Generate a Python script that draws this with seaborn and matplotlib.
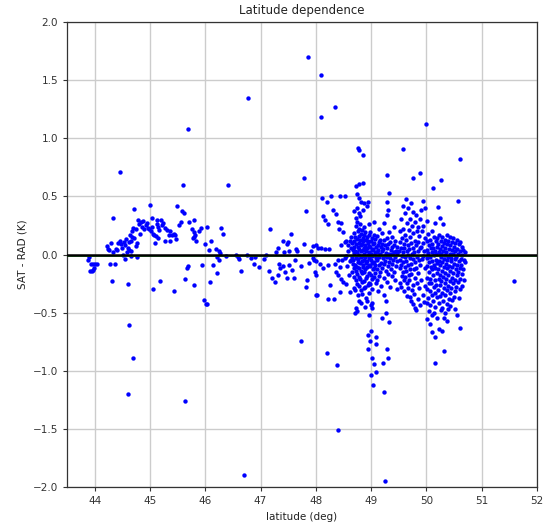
import matplotlib
matplotlib.use("Agg")
import matplotlib.pyplot as plt
import seaborn as sns
import pandas as pd

# Satellite minus radiosonde temperature difference (K) against station latitude.

# Sparse soundings, as (latitude, difference) pairs
south_pts = [
    (43.90, -0.02), (43.88, -0.05), (43.93, -0.08), (43.97, -0.08), (44.01, -0.08),
    (44.04, -0.08), (43.92, -0.14), (43.95, -0.14), (43.97, -0.13), (43.99, -0.12),
    (44.22, 0.07), (44.24, 0.05), (44.26, 0.04), (44.28, -0.08), (44.36, -0.08),
    (44.32, -0.23), (44.33, 0.02), (44.30, 0.10), (44.38, 0.05), (44.42, 0.10),
    (44.45, 0.12), (44.41, 0.04), (44.46, 0.71), (44.34, 0.31),
    (44.50, 0.06), (44.48, 0.09), (44.53, 0.11), (44.55, 0.08), (44.56, 0.13),
    (44.58, 0.02), (44.60, 0.06), (44.62, 0.11), (44.63, 0.04), (44.64, 0.17),
    (44.65, 0.12), (44.66, 0.03), (44.68, 0.20), (44.68, 0.15), (44.70, 0.23),
    (44.72, 0.39), (44.72, 0.14), (44.74, 0.07), (44.75, 0.22), (44.76, 0.10),
    (44.78, 0.30), (44.80, 0.26), (44.82, 0.18), (44.84, 0.28), (44.86, 0.24),
    (44.88, 0.29), (44.90, 0.22), (44.92, 0.25), (44.95, 0.27), (44.97, 0.23),
    (45.00, 0.43), (44.55, -0.04), (44.77, -0.02), (44.60, -0.25), (44.65, -0.01),
    (44.52, 0.00), (44.62, -0.61), (44.69, -0.89), (44.61, -1.20),
]

central_pts = [
    (45.69, 1.08), (45.59, 0.60), (46.42, 0.60), (45.49, 0.42), (45.58, 0.37),
    (45.61, 0.36), (45.03, 0.31), (45.13, 0.30), (45.20, 0.30), (45.24, 0.27),
    (45.14, 0.24), (45.21, 0.25), (45.28, 0.23), (45.30, 0.21), (45.36, 0.20),
    (45.44, 0.18), (45.35, 0.17), (45.40, 0.17), (45.45, 0.17), (45.48, 0.13),
    (45.37, 0.12), (45.28, 0.12), (45.10, 0.10), (45.15, 0.14), (45.05, 0.18),
    (45.02, 0.20), (44.98, 0.22), (45.03, 0.24), (45.08, 0.17), (45.11, 0.16),
    (45.12, 0.26), (45.17, 0.21), (45.52, 0.25), (45.56, 0.28), (45.70, 0.28),
    (45.80, 0.30), (45.76, 0.22), (45.79, 0.19), (45.82, 0.17), (45.77, 0.14),
    (45.84, 0.12), (45.89, 0.20), (45.92, 0.23), (45.80, 0.15), (46.04, 0.24),
    (46.10, 0.12), (45.99, 0.09), (46.33, 0.18), (46.28, 0.23), (46.06, 0.04),
    (46.20, 0.05), (46.24, 0.03), (46.27, 0.01), (46.38, -0.01), (46.22, -0.02),
    (46.14, -0.09), (46.21, -0.16), (46.25, -0.05),
    (45.64, -0.21), (45.67, -0.12), (45.69, -0.10), (45.19, -0.23), (45.06, -0.30),
    (45.44, -0.31), (45.80, -0.26), (46.09, -0.24), (45.94, -0.09), (45.97, -0.39),
    (46.02, -0.43), (46.04, -0.43), (45.64, -1.26), (46.71, -1.90), (46.77, 1.35),
]

north_pts = [
    (47.78, 0.66), (47.82, 0.37), (47.17, 0.22), (47.56, 0.18), (47.50, 0.11),
    (47.40, 0.12), (47.48, 0.09), (47.65, 0.05), (47.78, 0.09), (47.66, 0.03),
    (47.95, 0.07), (47.92, 0.03), (47.31, 0.06), (47.28, 0.02), (47.52, 0.03),
    (47.42, 0.02), (46.55, 0.00), (46.60, -0.02), (46.75, 0.00), (46.90, -0.02),
    (47.10, 0.00), (46.61, -0.04), (46.65, -0.14), (46.88, -0.08), (46.97, -0.11),
    (46.82, -0.03), (47.07, -0.04), (47.15, -0.14), (47.21, -0.20), (47.27, -0.24),
    (47.32, -0.18), (47.36, -0.12), (47.34, -0.08), (47.48, -0.20), (47.60, -0.20),
    (47.62, -0.05), (47.45, -0.15), (47.41, -0.10), (47.52, -0.09), (47.57, -0.13),
    (47.73, -0.10), (47.84, -0.22), (47.82, -0.28), (47.87, -0.07), (47.98, -0.15),
    (47.96, -0.05), (48.00, -0.35), (47.74, -0.74),
    (47.86, 1.70), (48.10, 1.54), (48.34, 1.27), (48.10, 1.18), (50.00, 1.12),
    (48.76, 0.92), (48.78, 0.90), (48.85, 0.86), (49.29, 0.68), (50.27, 0.64),
    (48.12, 0.49), (48.28, 0.50), (48.20, 0.45), (48.44, 0.50), (48.53, 0.50),
    (48.31, 0.38), (48.36, 0.35), (48.16, 0.30), (48.13, 0.33), (48.22, 0.26),
    (48.40, 0.28), (48.42, 0.22), (48.45, 0.27), (48.50, 0.19),
    (48.00, 0.08), (48.04, 0.06), (48.10, 0.06), (48.16, 0.05), (48.24, 0.05),
    (47.95, -0.03), (48.01, -0.06), (48.07, -0.08), (48.13, -0.12), (48.22, -0.09),
    (48.34, -0.08), (48.40, -0.05), (48.43, -0.11), (48.37, -0.15), (48.40, -0.18),
    (48.25, -0.26), (48.49, -0.24), (48.46, -0.21), (48.01, -0.18), (48.02, -0.35),
    (48.22, -0.38), (48.32, -0.38), (48.43, -0.32), (48.46, 0.08), (48.52, 0.11),
    (48.58, 0.08), (48.61, 0.12), (48.64, 0.15), (48.55, -0.01), (48.61, -0.06),
    (48.48, -0.05), (48.55, 0.12), (48.58, 0.03), (48.52, -0.03), (48.57, -0.10),
    (48.60, -0.18), (48.55, -0.25), (48.62, -0.32), (48.64, -0.05), (48.63, 0.06),
    (48.21, -0.85), (48.38, -0.95), (48.40, -1.51),
    (48.94, -0.69), (49.09, -0.71), (48.98, -0.74), (49.09, -0.77), (48.94, -0.81),
    (49.29, -0.81), (49.01, -0.89), (49.05, -0.94), (49.21, -0.93), (49.31, -0.89),
    (49.08, -1.01), (49.00, -1.04), (49.04, -1.12), (49.23, -1.18), (49.25, -1.95),
    (49.19, -0.55), (49.27, -0.50), (48.97, -0.52), (49.27, -0.40), (49.13, -0.31),
    (49.02, -0.46), (48.71, -0.50), (51.59, -0.23),
]

# Dense groups of soundings
band_489 = [
    (48.655, 0.100), (48.668, 0.035), (48.662, -0.025), (48.671, -0.085), (48.652, -0.148),
    (48.694, 0.183), (48.683, 0.118), (48.699, 0.064), (48.688, 0.012), (48.681, -0.046),
    (48.697, -0.113), (48.686, -0.196), (48.692, -0.284), (48.695, 0.372),
    (48.724, 0.243), (48.713, 0.152), (48.728, 0.087), (48.716, 0.027), (48.731, -0.033),
    (48.711, -0.094), (48.726, -0.142), (48.719, -0.218), (48.714, -0.303), (48.723, -0.457),
    (48.729, 0.318), (48.718, 0.592),
    (48.748, 0.276), (48.757, 0.203), (48.743, 0.134), (48.755, 0.068), (48.741, 0.022),
    (48.759, -0.037), (48.746, -0.104), (48.752, -0.171), (48.744, -0.252), (48.758, -0.348),
    (48.749, -0.483), (48.753, 0.401), (48.745, 0.523),
    (48.776, 0.218), (48.788, 0.163), (48.772, 0.097), (48.784, 0.047), (48.779, -0.004),
    (48.771, -0.063), (48.787, -0.118), (48.775, -0.193), (48.782, -0.268), (48.774, -0.396),
    (48.786, 0.488), (48.777, 0.357), (48.789, 0.606),
    (48.806, 0.262), (48.815, 0.176), (48.802, 0.124), (48.818, 0.079), (48.808, 0.028),
    (48.812, -0.021), (48.801, -0.077), (48.817, -0.141), (48.805, -0.208), (48.813, -0.302),
    (48.809, -0.418), (48.803, 0.334), (48.816, 0.452),
    (48.836, 0.208), (48.845, 0.143), (48.831, 0.088), (48.848, 0.038), (48.839, -0.012),
    (48.833, -0.054), (48.846, -0.107), (48.838, -0.163), (48.842, -0.238), (48.834, -0.342),
    (48.847, 0.386), (48.849, 0.612),
    (48.868, 0.238), (48.876, 0.172), (48.862, 0.114), (48.874, 0.056), (48.865, 0.008),
    (48.879, -0.043), (48.861, -0.088), (48.873, -0.153), (48.866, -0.224), (48.877, -0.287),
    (48.869, 0.447),
    (48.898, 0.193), (48.906, 0.128), (48.892, 0.083), (48.904, 0.026), (48.895, -0.018),
    (48.909, -0.073), (48.891, -0.126), (48.902, -0.198), (48.896, -0.283), (48.907, -0.376),
    (48.893, -0.448),
    (48.928, 0.154), (48.936, 0.097), (48.922, 0.052), (48.939, -0.003), (48.925, -0.052),
    (48.933, -0.108), (48.921, -0.182), (48.937, -0.262), (48.927, -0.402), (48.934, 0.418),
    (48.955, 0.262), (48.966, 0.171), (48.951, 0.118), (48.963, 0.072), (48.958, 0.018),
    (48.969, -0.028), (48.953, -0.093), (48.961, -0.158), (48.956, -0.243), (48.967, -0.328),
    (48.952, 0.448),
    (48.987, 0.197), (48.995, 0.114), (48.983, 0.062), (48.998, 0.008), (48.989, -0.043),
    (48.981, -0.098), (48.996, -0.172), (48.985, -0.254), (48.993, -0.437), (48.992, -0.662),
    (49.016, 0.138), (49.027, 0.094), (49.013, 0.038), (49.024, -0.014), (49.018, -0.072),
    (49.029, -0.128), (49.011, -0.213), (49.022, -0.297), (49.015, -0.418),
    (49.047, 0.168), (49.056, 0.103), (49.042, 0.047), (49.053, -0.004), (49.045, -0.063),
    (49.058, -0.118), (49.049, -0.192), (49.054, 0.282),
    (49.076, 0.132), (49.085, 0.066), (49.072, 0.023), (49.083, -0.032), (49.078, -0.087),
    (49.071, -0.158), (49.087, -0.243),
]

band_493 = [
    (49.106, 0.158), (49.117, 0.083), (49.112, 0.018), (49.103, -0.043), (49.115, -0.124),
    (49.108, -0.217),
    (49.137, 0.223), (49.146, 0.107), (49.133, 0.043), (49.144, -0.024), (49.139, -0.087),
    (49.148, -0.182),
    (49.166, 0.128), (49.174, 0.063), (49.162, 0.003), (49.177, -0.072), (49.168, -0.147),
    (49.171, -0.268),
    (49.196, 0.183), (49.205, 0.088), (49.192, 0.032), (49.207, -0.027), (49.199, -0.112),
    (49.227, 0.268), (49.235, 0.122), (49.221, 0.048), (49.238, -0.013), (49.224, -0.083),
    (49.233, -0.203), (49.229, -0.347),
    (49.256, 0.082), (49.267, 0.017), (49.252, -0.052), (49.264, -0.138),
    (49.288, 0.452), (49.296, 0.338), (49.283, 0.142), (49.294, 0.058), (49.286, -0.023),
    (49.299, -0.098), (49.282, -0.238),
    (49.315, 0.527), (49.308, 0.382), (49.324, 0.197), (49.312, 0.093), (49.321, 0.008),
    (49.317, -0.063), (49.306, -0.168), (49.319, -0.577),
    (49.347, 0.108), (49.356, 0.042), (49.343, -0.028), (49.354, -0.123), (49.349, -0.283),
    (49.376, 0.148), (49.385, 0.063), (49.372, 0.004), (49.384, -0.078), (49.379, -0.188),
    (49.407, 0.082), (49.416, 0.024), (49.403, -0.048), (49.413, -0.152), (49.409, 0.238),
    (49.437, 0.118), (49.446, 0.032), (49.433, -0.023), (49.444, -0.098), (49.439, -0.223),
    (49.467, 0.068), (49.476, 0.012), (49.463, -0.058), (49.471, -0.297),
]

band_497 = [
    (49.516, 0.198), (49.527, 0.104), (49.512, 0.028), (49.524, -0.043), (49.519, -0.118),
    (49.528, -0.247),
    (49.546, 0.302), (49.557, 0.143), (49.543, 0.058), (49.554, -0.012), (49.548, -0.088),
    (49.559, -0.183), (49.544, -0.276),
    (49.577, 0.907), (49.585, 0.418), (49.572, 0.223), (49.588, 0.087), (49.576, 0.018),
    (49.583, -0.062), (49.571, -0.148), (49.586, -0.222),
    (49.606, 0.353), (49.617, 0.168), (49.602, 0.054), (49.614, -0.023), (49.609, -0.108),
    (49.618, -0.197), (49.603, -0.312),
    (49.637, 0.478), (49.645, 0.268), (49.633, 0.122), (49.648, 0.028), (49.639, -0.052),
    (49.631, -0.143), (49.646, -0.248), (49.641, -0.353),
    (49.667, 0.398), (49.676, 0.212), (49.662, 0.078), (49.674, -0.003), (49.668, -0.087),
    (49.679, -0.178), (49.664, -0.292),
    (49.696, 0.308), (49.705, 0.152), (49.692, 0.048), (49.707, -0.032), (49.699, -0.122),
    (49.691, -0.218), (49.703, -0.368),
    (49.727, 0.442), (49.735, 0.247), (49.722, 0.102), (49.738, 0.008), (49.729, -0.083),
    (49.721, -0.168), (49.734, -0.303), (49.726, -0.398),
    (49.757, 0.658), (49.766, 0.362), (49.752, 0.183), (49.764, 0.058), (49.759, -0.042),
    (49.768, -0.128), (49.754, -0.262), (49.761, -0.427),
    (49.786, 0.278), (49.795, 0.118), (49.782, 0.023), (49.797, -0.068), (49.788, -0.203),
    (49.781, -0.338), (49.793, -0.462),
    (49.817, 0.338), (49.826, 0.203), (49.812, 0.078), (49.824, -0.023), (49.819, -0.113),
    (49.828, -0.248), (49.814, -0.478),
    (49.846, 0.238), (49.855, 0.108), (49.842, 0.028), (49.857, -0.048), (49.849, -0.163),
    (49.843, -0.383),
    (49.877, 0.698), (49.885, 0.302), (49.872, 0.158), (49.888, 0.052), (49.879, -0.088),
    (49.874, -0.288), (49.886, -0.438),
    (49.906, 0.382), (49.915, 0.198), (49.902, 0.068), (49.913, -0.042), (49.908, -0.218),
    (49.937, 0.458), (49.945, 0.248), (49.932, 0.098), (49.947, -0.012), (49.939, -0.348),
    (49.966, 0.398), (49.975, 0.142), (49.962, 0.028), (49.977, -0.118), (49.969, -0.268),
    (49.964, -0.412),
]

band_503 = [
    (50.006, 0.288), (50.017, 0.118), (50.003, 0.042), (50.014, -0.028), (50.009, -0.098),
    (50.018, -0.203), (50.002, -0.297), (50.012, -0.418), (50.007, -0.558),
    (50.037, 0.178), (50.046, 0.078), (50.033, 0.012), (50.044, -0.068), (50.039, -0.152),
    (50.048, -0.248), (50.034, -0.372), (50.042, -0.483),
    (50.066, 0.128), (50.075, 0.052), (50.062, -0.018), (50.077, -0.108), (50.068, -0.213),
    (50.073, -0.318), (50.064, -0.438), (50.071, -0.598),
    (50.096, 0.198), (50.105, 0.088), (50.092, 0.023), (50.107, -0.052), (50.099, -0.128),
    (50.091, -0.243), (50.103, -0.348), (50.097, -0.522), (50.108, -0.668),
    (50.127, 0.568), (50.135, 0.152), (50.122, 0.058), (50.138, -0.008), (50.129, -0.093),
    (50.121, -0.178), (50.134, -0.283), (50.126, -0.398), (50.137, -0.503),
    (50.156, 0.268), (50.165, 0.112), (50.152, 0.028), (50.167, -0.043), (50.158, -0.118),
    (50.151, -0.222), (50.163, -0.328), (50.157, -0.452), (50.162, -0.708), (50.154, -0.932),
    (50.186, 0.138), (50.195, 0.068), (50.182, 0.003), (50.197, -0.072), (50.188, -0.158),
    (50.181, -0.262), (50.193, -0.368), (50.189, -0.548),
    (50.217, 0.408), (50.225, 0.172), (50.212, 0.088), (50.228, 0.018), (50.219, -0.052),
    (50.211, -0.128), (50.224, -0.212), (50.216, -0.302), (50.227, -0.418), (50.221, -0.642),
    (50.246, 0.312), (50.255, 0.118), (50.242, 0.048), (50.257, -0.018), (50.248, -0.088),
    (50.241, -0.172), (50.253, -0.262), (50.247, -0.358), (50.258, -0.478),
    (50.276, 0.148), (50.285, 0.072), (50.272, 0.004), (50.287, -0.062), (50.279, -0.138),
    (50.271, -0.228), (50.283, -0.332), (50.277, -0.458), (50.288, -0.658),
    (50.307, 0.262), (50.316, 0.098), (50.302, 0.032), (50.318, -0.038), (50.309, -0.108),
    (50.301, -0.192), (50.314, -0.288), (50.306, -0.402), (50.317, -0.548), (50.311, -0.828),
    (50.336, 0.128), (50.345, 0.058), (50.332, -0.008), (50.347, -0.078), (50.338, -0.162),
    (50.331, -0.248), (50.343, -0.352), (50.339, -0.502),
    (50.367, 0.168), (50.375, 0.092), (50.362, 0.018), (50.377, -0.048), (50.368, -0.118),
    (50.361, -0.208), (50.374, -0.308), (50.366, -0.428), (50.378, -0.568),
    (50.396, 0.118), (50.405, 0.048), (50.392, -0.022), (50.407, -0.098), (50.398, -0.178),
    (50.391, -0.272), (50.403, -0.382), (50.399, -0.472),
    (50.427, 0.148), (50.435, 0.078), (50.422, 0.008), (50.437, -0.058), (50.429, -0.138),
    (50.421, -0.228), (50.434, -0.328), (50.426, -0.442),
    (50.456, 0.108), (50.465, 0.038), (50.452, -0.028), (50.467, -0.108), (50.458, -0.198),
    (50.451, -0.292), (50.463, -0.388),
    (50.486, 0.138), (50.495, 0.068), (50.482, 0.003), (50.497, -0.078), (50.488, -0.158),
    (50.481, -0.248), (50.493, -0.362),
    (50.516, 0.098), (50.525, 0.028), (50.512, -0.038), (50.527, -0.128), (50.518, -0.218),
    (50.511, -0.318), (50.523, -0.468),
    (50.547, 0.128), (50.555, 0.048), (50.542, -0.018), (50.557, -0.088), (50.548, -0.178),
    (50.541, -0.278), (50.553, -0.522),
    (50.576, 0.458), (50.585, 0.088), (50.572, 0.008), (50.587, -0.058), (50.578, -0.148),
    (50.571, -0.238), (50.583, -0.372),
    (50.606, 0.818), (50.615, 0.108), (50.602, 0.028), (50.617, -0.038), (50.608, -0.118),
    (50.601, -0.208), (50.613, -0.298), (50.609, -0.632),
    (50.636, 0.068), (50.645, -0.008), (50.632, -0.088), (50.647, -0.168), (50.638, -0.268),
    (50.666, 0.038), (50.675, -0.048), (50.662, -0.128), (50.677, -0.218),
    (50.696, 0.018), (50.704, -0.068),
]

mean_offset = -0.012

rows = south_pts + central_pts + north_pts + band_489 + band_493 + band_497 + band_503
df = pd.DataFrame(rows, columns=["latitude", "diff"])

sns.set_style("ticks")
plt.rcParams["font.family"] = ["DejaVu Sans"]

fig = plt.figure(figsize=(5.51, 5.26), dpi=100)
ax = fig.add_axes([0.1216, 0.0741, 0.8530, 0.8841])

sns.scatterplot(data=df, x="latitude", y="diff", color="blue", s=10,
                linewidth=0, ax=ax, zorder=3)
ax.axhline(mean_offset, color="#22bb22", lw=1.2, zorder=4)
ax.axhline(0.0, color="black", lw=1.8, zorder=5)

ax.set_xlim(43.5, 52)
ax.set_ylim(-2.0, 2.0)
ax.set_xticks(range(44, 53))
ax.set_yticks([-2.0, -1.5, -1.0, -0.5, 0.0, 0.5, 1.0, 1.5, 2.0])
ax.grid(True, color="#cccccc", lw=1.0, zorder=0)
ax.set_axisbelow(True)
for sp in ax.spines.values():
    sp.set_color("#333333")
    sp.set_linewidth(0.9)
ax.tick_params(labelsize=7.5, length=3, width=0.8, colors="#333333")

ax.set_title("Latitude dependence", fontsize=8.5, color="#222222")
ax.set_xlabel("latitude (deg)", fontsize=7.5, color="#222222")
ax.set_ylabel("SAT - RAD (K)", fontsize=7.5, color="#222222")

fig.savefig("out.png", dpi=100)
